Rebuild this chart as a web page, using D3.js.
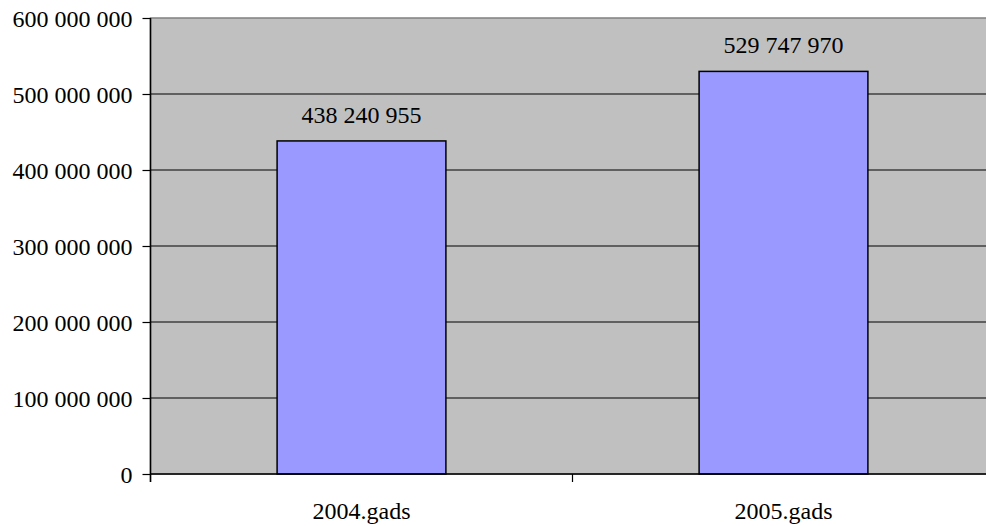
<!DOCTYPE html>
<html><head><meta charset="utf-8">
<script src="https://cdn.jsdelivr.net/npm/d3@7/dist/d3.min.js"></script>
<style>
html,body{margin:0;padding:0;background:#fff;overflow:hidden;}
svg{display:block;}
</style></head>
<body>
<svg id="chart" width="986" height="526"></svg>
<script>
const categories = ["2004.gads", "2005.gads"];
const values = [438240955, 529747970];
const yTicks = [0, 100000000, 200000000, 300000000, 400000000, 500000000, 600000000];

const fmt = v => d3.format(",")(v).replace(/,/g, " ");
const FONT = "'Liberation Serif'";
const FS = "24px";

const svg = d3.select("#chart");
const pLeft = 150.5, pTop = 18, pBottom = 474, plotW = 844;
const x = d3.scaleBand().domain(categories).range([pLeft, pLeft + plotW]).paddingInner(0.6).paddingOuter(0.3);
const xb = d3.scaleBand().domain(categories).range([pLeft, pLeft + plotW]);
const y = d3.scaleLinear().domain([0, 600000000]).range([pBottom, pTop]);

// plot background
svg.append("rect").attr("x", pLeft).attr("y", pTop).attr("width", plotW).attr("height", pBottom - pTop)
  .attr("fill", "#C0C0C0").attr("stroke", "#808080").attr("stroke-width", 1.5);

// gridlines
svg.append("g").selectAll("line").data(yTicks.filter(d => d > 0 && d < 600000000)).join("line")
  .attr("x1", pLeft).attr("x2", pLeft + plotW)
  .attr("y1", d => y(d)).attr("y2", d => y(d))
  .attr("stroke", "#000").attr("stroke-width", 1.2);

// bars
svg.append("g").selectAll("rect").data(values).join("rect")
  .attr("x", (d, i) => x(categories[i]))
  .attr("width", x.bandwidth())
  .attr("y", d => y(d))
  .attr("height", d => pBottom - y(d))
  .attr("fill", "#9999FF").attr("stroke", "#000").attr("stroke-width", 1.5);

// value labels
svg.append("g").selectAll("text").data(values).join("text")
  .attr("x", (d, i) => x(categories[i]) + x.bandwidth() / 2)
  .attr("y", d => y(d) - 18)
  .attr("text-anchor", "middle").attr("fill", "#000")
  .style("font-family", FONT).style("font-size", FS)
  .text(d => fmt(d));

// y axis
const yAxis = d3.axisLeft(y).tickValues(yTicks).tickSize(8).tickPadding(10).tickFormat(d => fmt(d));
const gy = svg.append("g").attr("transform", `translate(${pLeft},0)`).call(yAxis);
gy.select(".domain").attr("stroke", "#000").attr("stroke-width", 1.5).attr("d", `M0,${pTop}V${pBottom + 8}`);
gy.selectAll(".tick line").attr("stroke", "#000").attr("stroke-width", 1.2);
gy.selectAll(".tick text").attr("fill", "#000").attr("dy", "0.36em")
  .style("font-family", FONT).style("font-size", FS);

// x axis
const gx = svg.append("g").attr("transform", `translate(0,${pBottom})`);
gx.append("line").attr("x1", pLeft).attr("x2", pLeft + plotW).attr("y1", 0).attr("y2", 0).attr("stroke", "#000").attr("stroke-width", 1.5);
gx.selectAll(".xt").data(categories).join("line").attr("class", "xt")
  .attr("x1", d => xb(d)).attr("x2", d => xb(d)).attr("y1", 0).attr("y2", 8)
  .attr("stroke", "#000").attr("stroke-width", 1.2);
gx.selectAll(".xl").data(categories).join("text").attr("class", "xl")
  .attr("x", d => xb(d) + xb.bandwidth() / 2).attr("y", 45)
  .attr("text-anchor", "middle").attr("fill", "#000")
  .style("font-family", FONT).style("font-size", FS)
  .text(d => d);
</script>
</body></html>
